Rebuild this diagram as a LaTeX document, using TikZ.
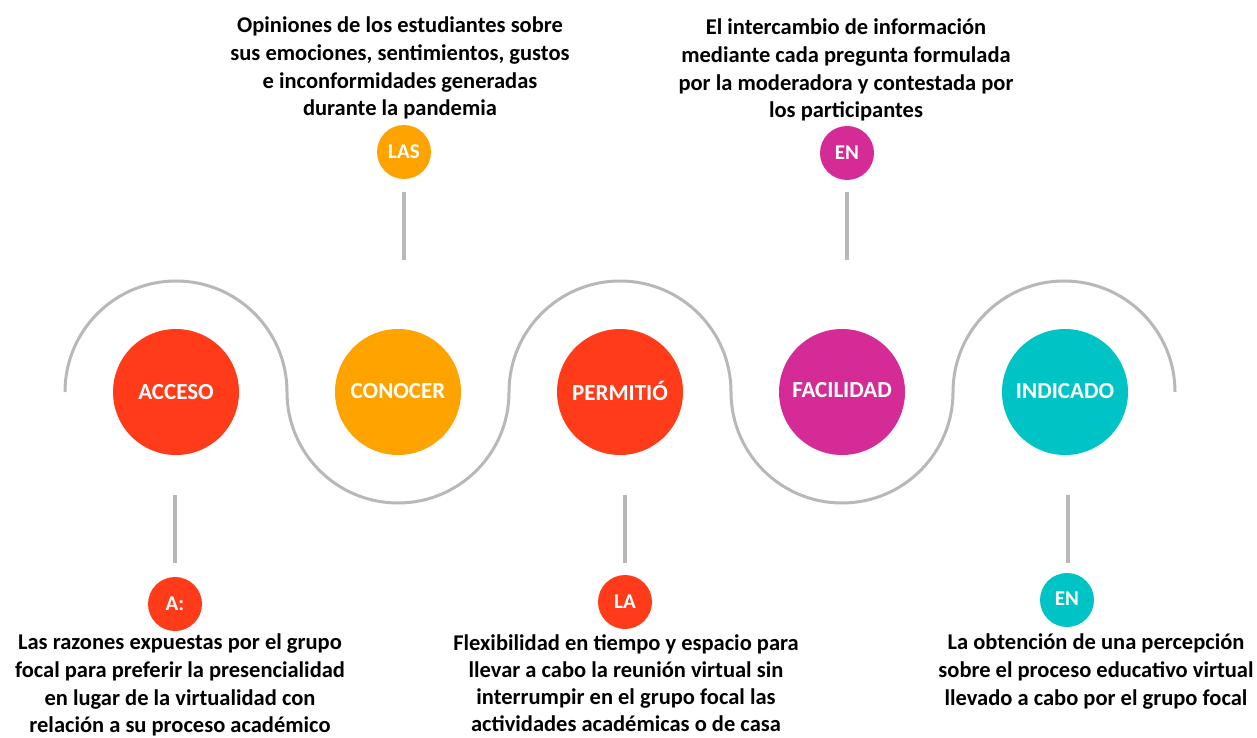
\documentclass[tikz,border=0pt]{standalone}
\usepackage{fontspec}
\setmainfont{Carlito}
\definecolor{cred}{HTML}{FF3B1A}
\definecolor{corange}{HTML}{FFA300}
\definecolor{cmag}{HTML}{D42B96}
\definecolor{cteal}{HTML}{00C3C6}
\definecolor{cgray}{HTML}{B8B8B8}
\tikzset{
  big/.style={circle,minimum size=126pt,inner sep=0pt,text=white,font=\fontsize{23}{26}\selectfont\bfseries},
  small/.style={circle,minimum size=54pt,inner sep=0pt,text=white,font=\fontsize{21}{24}\selectfont\bfseries},
  desc/.style={align=center,inner sep=0pt,font=\fontsize{22.5}{27.8}\selectfont\bfseries,text=black},
  wave/.style={draw=cgray,line width=3pt},
  stem/.style={draw=cgray,line width=3.5pt}
}
\begin{document}
\begin{tikzpicture}[x=1pt,y=-1pt]
\useasboundingbox[fill=white] (0,0) rectangle (1257,738);
% wave
\coordinate (w0) at (65,392);
\draw[wave] (w0) arc[start angle=180,end angle=360,radius=111]
  arc[start angle=180,end angle=0,radius=111]
  arc[start angle=180,end angle=360,radius=111]
  arc[start angle=180,end angle=0,radius=111]
  arc[start angle=180,end angle=360,radius=111];
% big circles
\node[big,fill=cred] (acc) at (176,392) {ACCESO};
\node[big,fill=corange] (con) at (398,392) {\raisebox{3pt}{CONOCER}};
\node[big,fill=cred] (per) at (620,392) {\raisebox{3pt}{PERMITIÓ}};
\node[big,fill=cmag] (fac) at (842,392) {\raisebox{4pt}{FACILIDAD}};
\node[big,fill=cteal] (ind) at (1065,392) {\raisebox{2pt}{INDICADO}};
% small circles
\node[small,fill=corange] (las) at (404,152) {LAS};
\node[small,fill=cmag] (en1) at (847,153) {EN};
\node[small,fill=cred] (a) at (175,604) {A:};
\node[small,fill=cred] (la) at (625,602) {LA};
\node[small,fill=cteal] (en2) at (1067,600) {\raisebox{2pt}{EN}};
% stems
\coordinate (s1a) at (404,192); \coordinate (s1b) at (404,260);
\coordinate (s2a) at (847,192); \coordinate (s2b) at (847,260);
\coordinate (s3a) at (175,495); \coordinate (s3b) at (175,563);
\coordinate (s4a) at (625,495); \coordinate (s4b) at (625,563);
\coordinate (s5a) at (1068,495); \coordinate (s5b) at (1068,563);
\draw[stem] (s1a) -- (s1b);
\draw[stem] (s2a) -- (s2b);
\draw[stem] (s3a) -- (s3b);
\draw[stem] (s4a) -- (s4b);
\draw[stem] (s5a) -- (s5b);
% descriptions
\node[desc,anchor=north] (t1) at (400,16.5) {Opiniones de los estudiantes sobre\\sus emociones, sentimientos, gustos\\e inconformidades generadas\\durante la pandemia};
\node[desc,anchor=north] (t2) at (846,18.5) {El intercambio de información\\mediante cada pregunta formulada\\por la moderadora y contestada por\\los participantes};
\node[desc,anchor=north] (t3) at (180,633.5) {Las razones expuestas por el grupo\\focal para preferir la presencialidad\\en lugar de la virtualidad con\\relación a su proceso académico};
\node[desc,anchor=north,font=\fontsize{22.5}{27.2}\selectfont\bfseries] (t4) at (626,634) {Flexibilidad en tiempo y espacio para\\llevar a cabo la reunión virtual sin\\interrumpir en el grupo focal las\\actividades académicas o de casa};
\node[desc,anchor=north] (t5) at (1096,633.5) {La obtención de una percepción\\sobre el proceso educativo virtual\\llevado a cabo por el grupo focal};
\end{tikzpicture}
\end{document}
